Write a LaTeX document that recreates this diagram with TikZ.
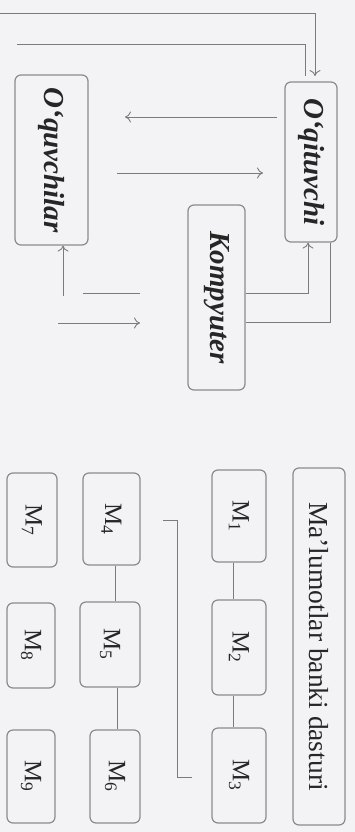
\documentclass[tikz,border=0pt]{standalone}
\usepackage{fontspec}
\setmainfont{Liberation Serif}
\usetikzlibrary{arrows.meta,calc}
\definecolor{ln}{HTML}{7A7A80}
\definecolor{bx}{HTML}{8A8A90}
\definecolor{bg}{HTML}{F3F3F5}
\tikzset{
  box/.style={draw=bx,line width=1.2pt,rounded corners=6pt,rotate=-90,inner sep=0pt,text=black!85},
  bigbox/.style={box,font=\bfseries\itshape\fontsize{29}{31}\selectfont},
  mbox/.style={box,font=\fontsize{25}{27}\selectfont},
  bankbox/.style={box,font=\fontsize{27.5}{29}\selectfont},
  wire/.style={draw=ln,line width=0.9pt},
  arr/.style={wire,-{To[length=6pt,width=11pt]}}
}
\begin{document}
\begin{tikzpicture}[x=1pt,y=1pt]
\fill[bg] (0,0) rectangle (355,-832);
\useasboundingbox (0,0) rectangle (355,-832);
% main boxes (rotated: minimum width = vertical extent)
\node[bigbox,minimum width=160pt,minimum height=52pt] (T) at (311,-162) {O‘qituvchi};
\node[bigbox,minimum width=170pt,minimum height=73pt] (S) at (51.5,-160) {O‘quvchilar};
\node[bigbox,minimum width=185pt,minimum height=57pt] (K) at (216.5,-297.5) {Kompyuter};
\node[bankbox,minimum width=357pt,minimum height=52pt] (B) at (319,-646.5) {Ma’lumotlar banki dasturi};
\node[mbox,minimum width=92pt,minimum height=54pt] (M1) at (239,-516) {M\textsubscript{1}};
\node[mbox,minimum width=95pt,minimum height=54pt] (M2) at (239,-647.5) {M\textsubscript{2}};
\node[mbox,minimum width=95pt,minimum height=54pt] (M3) at (239,-775.5) {M\textsubscript{3}};
\node[mbox,minimum width=92pt,minimum height=57pt] (M4) at (111.5,-519) {M\textsubscript{4}};
\node[mbox,minimum width=85pt,minimum height=60pt] (M5) at (110,-644.5) {M\textsubscript{5}};
\node[mbox,minimum width=93pt,minimum height=50pt] (M6) at (115,-776.5) {M\textsubscript{6}};
\node[mbox,minimum width=94pt,minimum height=50pt] (M7) at (32,-520) {M\textsubscript{7}};
\node[mbox,minimum width=85pt,minimum height=48pt] (M8) at (31,-645.5) {M\textsubscript{8}};
\node[mbox,minimum width=93pt,minimum height=48pt] (M9) at (31,-776.5) {M\textsubscript{9}};
% free ends
\coordinate (t1) at (0,-13);
\coordinate (t2) at (17,-44);
\coordinate (a1s) at (277,-117);
\coordinate (a1e) at (125,-117);
\coordinate (a2s) at (117,-173);
\coordinate (a2e) at (263,-173);
\coordinate (s1) at (63,-296);
\coordinate (l1s) at (83,-293);
\coordinate (l1e) at (140,-293);
\coordinate (l2s) at (58,-323);
\coordinate (l2e) at (140,-323);
\coordinate (b1) at (163,-520);
\coordinate (b2) at (192,-777);
% top feeds into O‘qituvchi
\draw[arr] (t1) -- (315,-13) -- (315,-76);
\draw[wire] (t2) -- (305,-44) -- (305,-76);
% middle arrows
\draw[arr] (a1s) -- (a1e);
\draw[arr] (a2s) -- (a2e);
% Kompyuter <-> O‘qituvchi
\draw[arr] (K.north |- 0,-293) -- (308,-293) -- (308,0 |- T.east);
\draw[wire] (330,0 |- T.east) -- (330,-322) -- (K.north |- 0,-322);
% below O‘quvchilar
\draw[arr] (s1) -- (63,0 |- S.east);
\draw[wire] (l1s) -- (l1e);
\draw[arr] (l2s) -- (l2e);
% bracket
\draw[wire] (b1) -- (177,-520) -- (177,-777) -- (b2);
% M links
\draw[wire] (233,0 |- M1.east) -- (233,0 |- M2.west);
\draw[wire] (233,0 |- M2.east) -- (233,0 |- M3.west);
\draw[wire] (115,0 |- M4.east) -- (115,0 |- M5.west);
\draw[wire] (117,0 |- M5.east) -- (117,0 |- M6.west);
\end{tikzpicture}
\end{document}
